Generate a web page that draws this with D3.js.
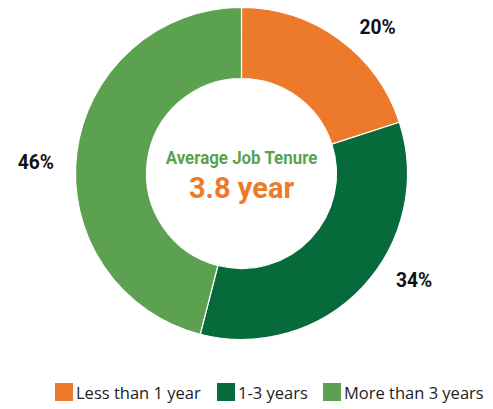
<!DOCTYPE html>
<html>
<head>
<meta charset="utf-8">
<script src="https://cdn.jsdelivr.net/npm/d3@7"></script>
<style>
  html, body { margin: 0; padding: 0; background: #fff; }
  .cond { font-family: Roboto, "Noto Sans", sans-serif; font-weight: bold; }
  .legend { font-family: "Open Sans", "Noto Sans", sans-serif; }
</style>
</head>
<body>
<svg></svg>
<script>
const categories = ['Less than 1 year', '1-3 years', 'More than 3 years'];
const shares = [20, 34, 46];
const labels = ['20%', '34%', '46%'];
const colors = ['#ec7a2a', '#076a3b', '#5ba150'];
const centerTitle = 'Average Job Tenure';
const centerValue = '3.8 year';

let width = 493;
let height = 409;
let cx = 241.5;
let cy = 173.5;
let outerR = 166;
let innerR = 95;

let svg = d3.select('svg')
    .attr('width', width)
    .attr('height', height);

let pie = d3.pie().sort(null).value((d) => d);
let arcs = pie(shares);

let arc = d3.arc().innerRadius(innerR).outerRadius(outerR);

let g = svg.append('g')
    .attr('transform', 'translate(' + cx + ',' + cy + ')');

g.selectAll('path')
    .data(arcs)
    .enter()
    .append('path')
        .attr('d', arc)
        .attr('fill', (d, i) => colors[i])
        .attr('stroke', '#fff')
        .attr('stroke-width', 1.2);

// condensed-looking text: squeeze horizontally
let condText = (parent, x, y, size, sx, fill, txt) => {
    parent.append('g')
        .attr('transform', 'translate(' + x + ',' + y + ') scale(' + sx + ',1)')
        .append('text')
            .attr('class', 'cond')
            .attr('text-anchor', 'middle')
            .attr('font-size', size)
            .attr('fill', fill)
            .text(txt);
};

// percentage labels outside the ring, nudged a bit from the mid angle
let nudge = [0.12, -0.2, -0.07];
let labelR = [200, 203, 206];
arcs.forEach((d, i) => {
    let a = (d.startAngle + d.endAngle) / 2 + nudge[i];
    condText(g, labelR[i] * Math.sin(a), -labelR[i] * Math.cos(a) + 7, 20, 0.96, '#111', labels[i]);
});

condText(g, 0, -10, 19, 0.89, colors[2], centerTitle);
condText(g, 0, 24, 29, 1, colors[0], centerValue);

// legend
let legendX = [55, 217, 323];
let legend = svg.append('g').attr('class', 'legend');
categories.forEach((c, i) => {
    legend.append('rect')
        .attr('x', legendX[i])
        .attr('y', 383)
        .attr('width', 18)
        .attr('height', 18)
        .attr('fill', colors[i]);
    legend.append('text')
        .attr('x', legendX[i] + 21)
        .attr('y', 399)
        .attr('font-size', 16.5)
        .attr('fill', '#222')
        .text(c);
});
</script>
</body>
</html>
